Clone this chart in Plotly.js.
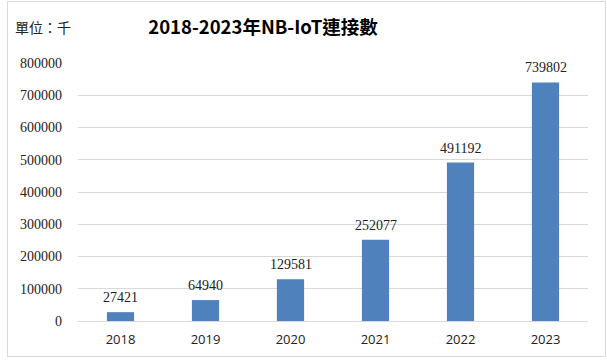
<!DOCTYPE html>
<html><head><meta charset="utf-8">
<script src="https://cdn.plot.ly/plotly-3.0.1.min.js"></script>
<style>html,body{margin:0;padding:0;background:#fff;}#wrap{position:relative;width:607px;height:360px;}#chart{width:607px;height:360px;}#frame{position:absolute;left:7px;top:1px;width:597px;height:354px;border:1px solid #d9d9d9;pointer-events:none;}</style>
</head><body>
<div id="wrap"><div id="chart"></div><div id="frame"></div></div>
<script>
const years = ['2018','2019','2020','2021','2022','2023'];
const connections = [27421, 64940, 129581, 252077, 491192, 739802];
const yTicks = [0,100000,200000,300000,400000,500000,600000,700000,800000];
const titleText = '2018-2023年NB-IoT連接數';
const unitText = '單位：千';

const trace = {
  type: 'bar', x: years, y: connections,
  marker: {color: '#4F81BD'},
  hoverinfo: 'none'
};
const labelAnns = years.map((yr, i) => ({
  x: i, y: connections[i], xref: 'x', yref: 'y', text: String(connections[i]),
  showarrow: false, xanchor: 'center', yanchor: 'bottom', yshift: 5,
  font: {family: '"Liberation Serif", "Times New Roman", serif', size: 14, color: '#222'}
}));
const layout = {
  width: 607, height: 360,
  margin: {l: 78, r: 19, t: 63, b: 39},
  paper_bgcolor: '#fff', plot_bgcolor: '#fff',
  bargap: 0.68,
  showlegend: false,
  title: {text: '<b>' + titleText + '</b>', xref: 'container', yref: 'container', x: 263/607, xanchor: 'center', y: 1 - 28/360, yanchor: 'middle',
    font: {family: 'Noto Sans CJK TC, sans-serif', size: 18.5, color: '#000'}},
  xaxis: {type: 'category', categoryorder: 'array', categoryarray: years, range: [-0.5, years.length - 0.5],
    showgrid: false, zeroline: false, showline: true, linecolor: '#d9d9d9', linewidth: 1,
    ticks: '', tickfont: {family: 'Open Sans, sans-serif', size: 13, color: '#222'}, ticklabelstandoff: 6},
  yaxis: {range: [0, 800000], tickvals: yTicks, ticktext: yTicks.map(String), showgrid: true, gridcolor: '#d9d9d9', gridwidth: 1,
    zeroline: false, showline: false, ticks: '', tickfont: {family: '"Liberation Serif", "Times New Roman", serif', size: 14, color: '#222'}, ticklabelstandoff: 15},
  annotations: labelAnns.concat([{text: unitText, xref: 'paper', yref: 'paper', x: (13-78)/510, y: (321-27)/258, xanchor: 'left', yanchor: 'middle', showarrow: false,
    font: {family: 'Noto Sans CJK TC, serif', size: 14, color: '#222'}}])
};
Plotly.newPlot('chart', [trace], layout, {staticPlot: true, displayModeBar: false});
</script>
</body></html>
